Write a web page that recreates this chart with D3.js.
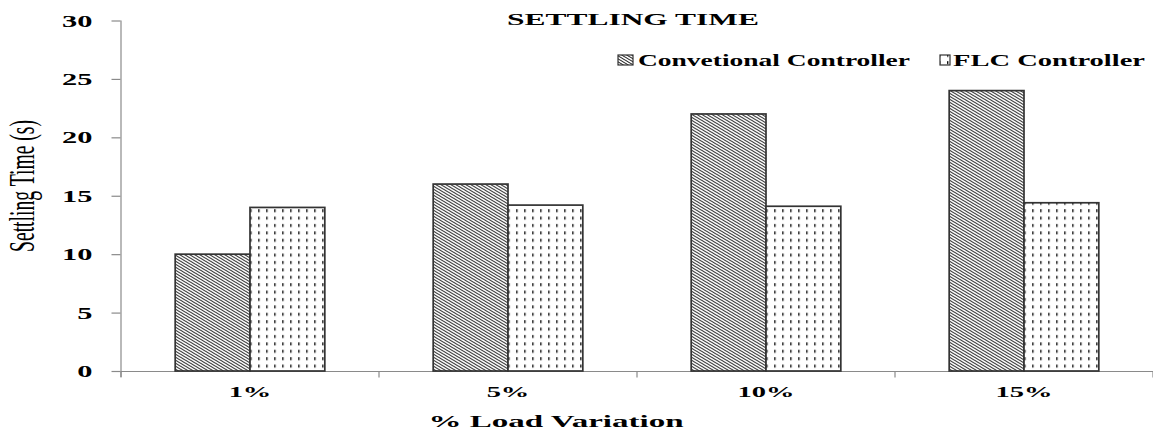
<!DOCTYPE html>
<html>
<head>
<meta charset="utf-8">
<script src="https://cdn.jsdelivr.net/npm/d3@7"></script>
<style>
  html, body { margin: 0; padding: 0; background: #fff; }
  svg { display: block; }
  text { font-family: "Liberation Serif", "DejaVu Serif", serif; fill: #000; }
</style>
</head>
<body>
<svg id="chart" width="1153" height="430"></svg>
<script>
// ---- data ----
const categories = ["1%", "5%", "10%", "15%"];
const seriesNames = ["Convetional Controller", "FLC Controller"];
const conventional = [10, 16, 22, 24];
const flc = [14, 14.2, 14.1, 14.4];
const yTicks = [0, 5, 10, 15, 20, 25, 30];
const chartTitle = "SETTLING TIME";
const xTitle = "% Load Variation";
const yTitle = "Settling Time (s)";

// ---- layout ----
const plot = { left: 121, right: 1153, top: 20.5, bottom: 371 };
const svg = d3.select("#chart");

const defs = svg.append("defs");
// diagonal hatch (descending to the right)
const hatch = defs.append("pattern")
  .attr("id", "hatch").attr("patternUnits", "userSpaceOnUse")
  .attr("width", 5).attr("height", 3);
hatch.append("rect").attr("width", 5).attr("height", 3).attr("fill", "#fff");
hatch.append("path")
  .attr("d", "M-5,-3L10,6M-5,0L5,6M0,-3L10,3")
  .attr("stroke", "#222").attr("stroke-width", 1.05).attr("fill", "none");
// dotted (small vertical dashes)
const dots = defs.append("pattern")
  .attr("id", "dots").attr("patternUnits", "userSpaceOnUse")
  .attr("width", 8).attr("height", 7.4);
dots.append("rect").attr("width", 8).attr("height", 7.4).attr("fill", "#fff");
dots.append("rect").attr("x", 3).attr("y", 2).attr("width", 1.4).attr("height", 3).attr("fill", "#111");

const fills = ["url(#hatch)", "url(#dots)"];

const x = d3.scaleBand().domain(categories)
  .range([plot.left, plot.right]).paddingInner(0.42).paddingOuter(0.21);
const xs = d3.scaleBand().domain(seriesNames).range([0, x.bandwidth()]);
const y = d3.scaleLinear().domain([0, 30]).range([plot.bottom, plot.top]);

const axisColor = "#8a8a8a";

// ---- y axis ----
const yAxis = svg.append("g").attr("transform", `translate(${plot.left - 0.5},0)`)
  .call(d3.axisLeft(y).tickValues(yTicks).tickSize(9).tickSizeOuter(0));
yAxis.select(".domain").attr("stroke", axisColor).attr("stroke-width", 1.2)
  .attr("d", `M0.5,${y(30)}V${plot.bottom + 6}`);
yAxis.selectAll(".tick line").attr("stroke", axisColor).attr("stroke-width", 1.2);
yAxis.selectAll(".tick text")
  .attr("x", null).attr("dy", null)
  .attr("transform", "translate(-28,5.5) scale(1.9,1)")
  .attr("font-family", "Liberation Serif, serif")
  .attr("font-weight", "bold").attr("font-size", 16).attr("fill", "#000");

// ---- x axis ----
const bounds = d3.range(categories.length + 1).map(i => plot.left + i * x.step());
svg.append("line").attr("x1", plot.left).attr("x2", plot.right)
  .attr("y1", plot.bottom + 0.5).attr("y2", plot.bottom + 0.5)
  .attr("stroke", axisColor).attr("stroke-width", 1.2);
svg.append("g").selectAll("line").data(bounds).join("line")
  .attr("x1", d => d).attr("x2", d => d)
  .attr("y1", plot.bottom).attr("y2", plot.bottom + 6.5)
  .attr("stroke", axisColor).attr("stroke-width", 1.2);

svg.append("g").selectAll("text").data(categories).join("text")
  .attr("text-anchor", "middle")
  .attr("font-weight", "bold").attr("font-size", 15)
  .attr("transform", d => `translate(${x(d) + x.bandwidth() / 2},397) scale(1.9,1)`)
  .text(d => d);

// ---- bars ----
const rows = categories.map((c, i) => ({ cat: c, vals: [conventional[i], flc[i]] }));
const groups = svg.append("g").selectAll("g").data(rows).join("g")
  .attr("transform", d => `translate(${x(d.cat)},0)`);
groups.selectAll("rect").data(d => d.vals.map((v, j) => ({ v, s: seriesNames[j], j })))
  .join("rect")
  .attr("x", d => xs(d.s))
  .attr("y", d => y(d.v))
  .attr("width", xs.bandwidth())
  .attr("height", d => y(0) - y(d.v))
  .attr("fill", d => fills[d.j])
  .attr("stroke", "#333").attr("stroke-width", 1.7);

// ---- title ----
svg.append("text").attr("x", 633).attr("y", 25)
  .attr("text-anchor", "middle").attr("font-weight", "bold").attr("font-size", 17)
  .attr("textLength", 252).attr("lengthAdjust", "spacingAndGlyphs")
  .text(chartTitle);

// ---- legend ----
const legendPos = [{ bx: 618, tx: 638, w: 272 }, { bx: 940, tx: 953, w: 192 }];
const lg = svg.append("g").selectAll("g").data(seriesNames).join("g");
lg.append("rect")
  .attr("x", (d, i) => legendPos[i].bx).attr("y", 55)
  .attr("width", (d, i) => i === 0 ? 15 : 10).attr("height", 10)
  .attr("fill", (d, i) => fills[i]).attr("stroke", "#333").attr("stroke-width", 1.2);
lg.append("text")
  .attr("x", (d, i) => legendPos[i].tx).attr("y", 66)
  .attr("font-weight", "bold").attr("font-size", 16.5)
  .attr("textLength", (d, i) => legendPos[i].w).attr("lengthAdjust", "spacingAndGlyphs")
  .text(d => d);

// ---- axis titles ----
svg.append("text").attr("x", 556).attr("y", 427)
  .attr("text-anchor", "middle").attr("font-weight", "bold").attr("font-size", 17)
  .attr("textLength", 255).attr("lengthAdjust", "spacingAndGlyphs")
  .text(xTitle);

svg.append("text")
  .attr("transform", "translate(34,186) rotate(-90) scale(1,1.85)")
  .attr("text-anchor", "middle").attr("font-size", 19)
  .attr("textLength", 132).attr("lengthAdjust", "spacingAndGlyphs")
  .text(yTitle);
</script>
</body>
</html>
